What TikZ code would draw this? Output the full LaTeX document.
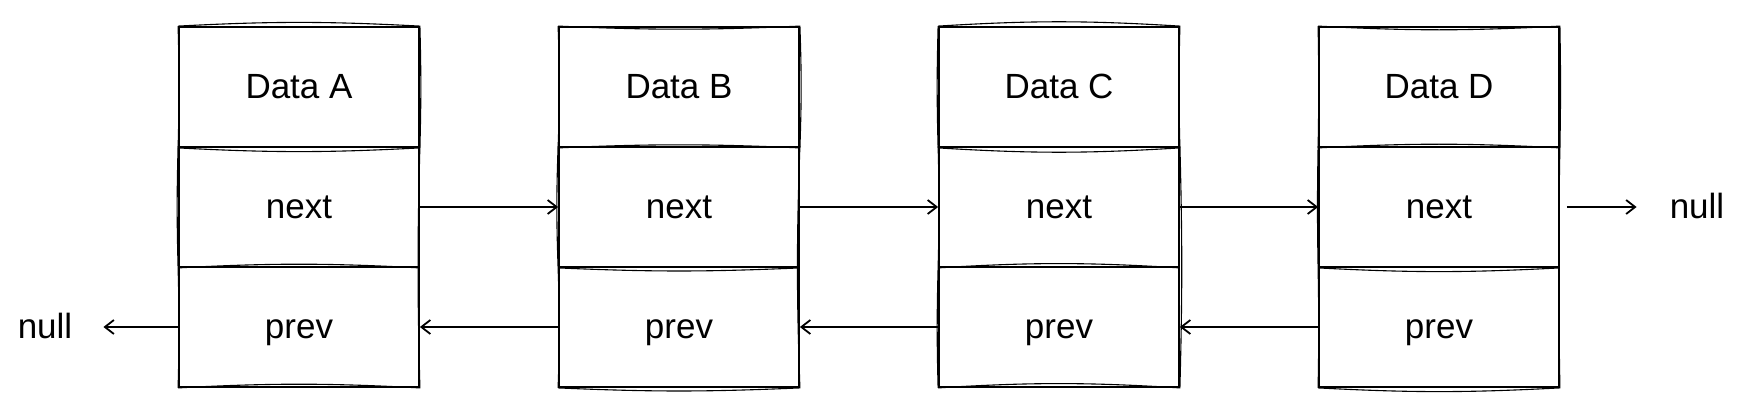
\documentclass[tikz,border=0pt]{standalone}
\usepackage{fontspec}
\setmainfont{Liberation Sans}
\usetikzlibrary{arrows.meta}
\begin{document}
\begin{tikzpicture}[x=1pt,y=-1pt,
  cell/.style={draw=black,line width=1.8pt,minimum width=240pt,minimum height=120pt,
    inner sep=0pt,font=\fontsize{35}{40}\selectfont,text height=25pt,text depth=2pt,anchor=center},
  sketch/.style={draw=black,line width=1.1pt},
  arr/.style={line width=1.8pt,-{Straight Barb[length=9pt,width=14pt,line width=1.8pt]}},
  nulltxt/.style={font=\fontsize{35}{40}\selectfont,text height=25pt,text depth=2pt,
    inner ysep=0pt,inner xsep=31pt}]
\useasboundingbox (0,0) rectangle (1750,412);
\foreach \n/\x/\l/\p/\q in {a/299/A/3/1.5,b/679/B/-2.5/2,c/1059/C/3.5/-1.5,d/1439/D/-3/1}{
  \node[cell] (\n1) at (\x,87) {Data \l};
  \node[cell] (\n2) at (\x,207) {next};
  \node[cell] (\n3) at (\x,327) {prev};
  \draw[sketch] (\n1.north west) to[bend left=\p] (\n1.north east)
     to[bend left=\q] (\n1.south east);
  \draw[sketch] (\n1.south west) to[bend right=\p] (\n1.south east);
  \draw[sketch] (\n2.south west) to[bend left=\p] (\n2.south east);
  \draw[sketch] (\n2.north west) to[bend right=\q] (\n2.south west)
     to[bend left=\q] (\n3.south west);
  \draw[sketch] (\n2.north east) to[bend right=\q] (\n3.south east)
     to[bend right=\p] (\n3.south west);
  \draw[sketch] (\n1.north west) to[bend left=\q] (\n1.south west);
}
\node[nulltxt] (nl) at (45,327) {null};
\node[nulltxt,inner xsep=33pt] (nr) at (1697,207) {null};
\draw[arr] (a2.east) -- (b2.west);
\draw[arr] (b2.east) -- (c2.west);
\draw[arr] (c2.east) -- (d2.west);
\draw[arr,shorten <=7pt] (d2.east) -- (nr.west);
\draw[arr] (b3.west) -- (a3.east);
\draw[arr] (c3.west) -- (b3.east);
\draw[arr] (d3.west) -- (c3.east);
\draw[arr] (a3.west) -- (nl.east);
\end{tikzpicture}
\end{document}
